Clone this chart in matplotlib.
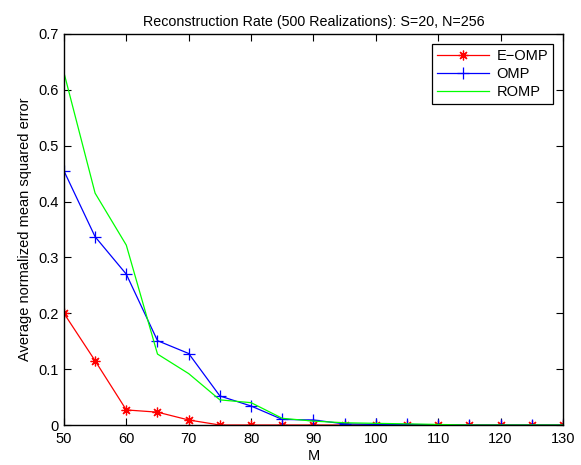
import matplotlib
matplotlib.use("Agg")
import matplotlib.pyplot as plt

M = [50, 55, 60, 65, 70, 75, 80, 85, 90, 95, 100, 105, 110, 115, 120, 125, 130]
e_omp = [0.200, 0.115, 0.027, 0.023, 0.009, 0.0, 0.0, 0.0, 0.0, 0.0, 0.0, 0.0, 0.0, 0.0, 0.0, 0.0, 0.0]
omp = [0.455, 0.337, 0.270, 0.151, 0.128, 0.052, 0.034, 0.010, 0.009, 0.002, 0.001, 0.001, 0.0005, 0.0, 0.0, 0.0, 0.0]
romp = [0.631, 0.415, 0.322, 0.127, 0.092, 0.045, 0.040, 0.012, 0.007, 0.004, 0.003, 0.002, 0.001, 0.0, 0.0, 0.0, 0.0]

xticks = [50, 60, 70, 80, 90, 100, 110, 120, 130]
yticks = [0, 0.1, 0.2, 0.3, 0.4, 0.5, 0.6, 0.7]
ytick_labels = ["0", "0.1", "0.2", "0.3", "0.4", "0.5", "0.6", "0.7"]

plt.rcParams['font.family'] = ['Liberation Sans', 'DejaVu Sans']
plt.rcParams['axes.unicode_minus'] = False

fig = plt.figure(figsize=(5.81, 4.65), dpi=100)
ax = fig.add_axes([0.110, 0.086, 0.859, 0.841])

ax.plot(M, e_omp, color='#ff0000', marker=(8, 2, 0), markersize=7, markeredgewidth=0.9,
        linewidth=0.9, label='E\u2212OMP')
ax.plot(M, omp, color='#0000ff', marker='+', markersize=8, markeredgewidth=0.9,
        linewidth=0.9, label='OMP')
ax.plot(M, romp, color='#00ff00', linewidth=0.9, label='ROMP')

ax.set_xlim(50, 130)
ax.set_ylim(0, 0.7)
ax.set_xticks(xticks)
ax.set_yticks(yticks)
ax.set_yticklabels(ytick_labels)
ax.tick_params(direction='in', top=True, right=True, length=5, labelsize=10.5)
ax.tick_params(axis='x', pad=5)
ax.tick_params(axis='y', pad=4)
for s in ax.spines.values():
    s.set_linewidth(1.0)

ax.set_title('Reconstruction Rate (500 Realizations): S=20, N=256', fontsize=10.3, pad=6)
ax.set_xlabel('M', fontsize=10.5, labelpad=2)
ax.set_ylabel('Average normalized mean squared error', fontsize=10.5, labelpad=4)

leg = ax.legend(loc='upper right', fontsize=10.5, fancybox=False, edgecolor='black',
                framealpha=1, borderpad=0.32, labelspacing=0.28, handlelength=3.6,
                handletextpad=0.5, borderaxespad=0.7, numpoints=1)
leg.get_frame().set_linewidth(0.9)

fig.savefig('out.png', dpi=100)
